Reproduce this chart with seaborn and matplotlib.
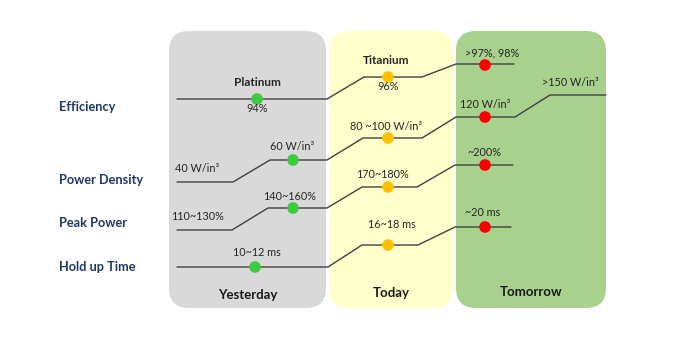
import matplotlib
matplotlib.use("Agg")
import matplotlib.pyplot as plt
from matplotlib.patches import FancyBboxPatch
import seaborn as sns
import pandas as pd

sns.set_theme(style="white")
plt.rcParams['font.family'] = ['Lato', 'DejaVu Sans']

# ---------------- data ----------------
rows = ["Efficiency", "Power Density", "Peak Power", "Hold up Time"]
row_label_y = [107, 180, 223, 267]
eras = ["Yesterday", "Today", "Tomorrow"]
era_colors = ["#d9d9d9", "#ffffcc", "#a9d18e"]
era_span = [(169, 326), (329, 453), (456, 606)]
dot_colors = ["#3dcc3d", "#ffc000", "#ff0000"]

# step-line breakpoints (x) and levels (y) for each row
eff_x = [177, 327, 364, 422, 456, 514]
eff_y = [99, 99, 77, 77, 64, 64]
pd_x = [177, 233, 270, 327, 363, 422, 456, 515, 550, 606]
pd_y = [182, 182, 160, 160, 138, 138, 117, 117, 95, 95]
pp_x = [177, 232, 268, 327, 362, 417, 455, 513]
pp_y = [230, 230, 208, 208, 187, 187, 165, 165]
ht_x = [177, 328, 362, 418, 455, 511]
ht_y = [267, 267, 245, 245, 227, 227]

# milestone dots per row: (Yesterday, Today, Tomorrow)
dot_x = {"Efficiency": [257, 388, 485], "Power Density": [293, 388, 485],
         "Peak Power": [293, 388, 485], "Hold up Time": [255, 388, 485]}
dot_y = {"Efficiency": [99, 77, 65], "Power Density": [160, 138, 117],
         "Peak Power": [208, 187, 165], "Hold up Time": [267, 245, 227]}

# value labels: (text, x, y)
value_labels = [
    ("94%", 257, 109), ("96%", 388, 87), (">97%, 98%", 492, 53),
    ("40 W/in³", 197, 168), ("60 W/in³", 292, 147), ("80 ~100 W/in³", 386, 127),
    ("120 W/in³", 485, 104), (">150 W/in³", 570, 82),
    ("110~130%", 198, 217), ("140~160%", 290, 196), ("170~180%", 383, 174),
    ("~200%", 484, 153),
    ("10~12 ms", 257, 252), ("16~18 ms", 392, 225), ("~20 ms", 483, 213),
]
grade_labels = [("Platinum", 257, 82), ("Titanium", 386, 60)]
era_label_y = [295, 293, 292]

# ---------------- build tables ----------------
lines = pd.concat([
    pd.DataFrame({"x": eff_x, "y": eff_y, "row": "Efficiency", "i": range(len(eff_x))}),
    pd.DataFrame({"x": pd_x, "y": pd_y, "row": "Power Density", "i": range(len(pd_x))}),
    pd.DataFrame({"x": pp_x, "y": pp_y, "row": "Peak Power", "i": range(len(pp_x))}),
    pd.DataFrame({"x": ht_x, "y": ht_y, "row": "Hold up Time", "i": range(len(ht_x))}),
], ignore_index=True)

dots = pd.DataFrame([
    {"row": r, "era": e, "x": dot_x[r][k], "y": dot_y[r][k]}
    for r in rows for k, e in enumerate(eras)
])

# ---------------- draw ----------------
fig = plt.figure(figsize=(6.79, 3.39), dpi=100)
ax = fig.add_axes([0, 0, 1, 1])

for (x0, x1), c in zip(era_span, era_colors):
    ax.add_patch(FancyBboxPatch((x0, 31), x1 - x0, 277,
                                boxstyle="round,pad=0,rounding_size=20",
                                fc=c, ec="none", zorder=0))

sns.lineplot(data=lines, x="x", y="y", units="row", estimator=None, sort=False,
             color="#404040", lw=1.0, ax=ax, zorder=2, legend=False)
sns.scatterplot(data=dots, x="x", y="y", hue="era", palette=dict(zip(eras, dot_colors)),
                s=70, edgecolor="none", ax=ax, zorder=3, legend=False)
ax.set_xlim(0, 679)
ax.set_ylim(339, 0)
ax.axis("off")

for t, x, y in value_labels:
    ax.text(x, y, t, ha="center", va="center", fontsize=7.8, color="#262626")
for t, x, y in grade_labels:
    ax.text(x, y, t, ha="center", va="center", fontsize=8.5, fontweight="bold", color="#262626")
for r, y in zip(rows, row_label_y):
    ax.text(59, y, r, ha="left", va="center", fontsize=9.2, fontweight="bold", color="#1f3864")
for e, (x0, x1), y in zip(eras, era_span, era_label_y):
    ax.text((x0 + x1) / 2, y, e, ha="center", va="center", fontsize=9.5,
            fontweight="bold", color="#1a1a1a")

fig.savefig("out.png", dpi=100)
